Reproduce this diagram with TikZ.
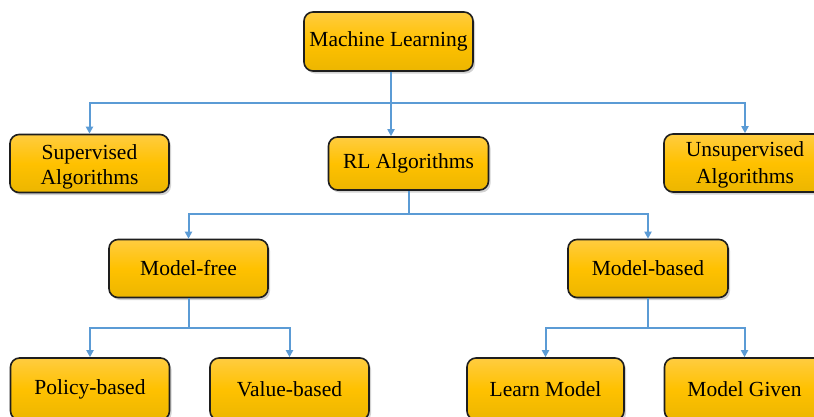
\documentclass[tikz,border=0pt]{standalone}
\usepackage{fontspec}
\setmainfont{Liberation Serif}
\usetikzlibrary{arrows.meta,shadows}
\definecolor{linkblue}{RGB}{91,155,213}
\definecolor{boxtop}{RGB}{255,204,64}
\definecolor{boxmid}{RGB}{255,193,0}
\definecolor{boxbot}{RGB}{236,182,0}
\definecolor{boxline}{RGB}{30,30,30}
\tikzset{
  box/.style={draw=boxline, line width=1.6pt, rounded corners=9pt,
    top color=boxtop, bottom color=boxbot, middle color=boxmid,
    drop shadow={opacity=0.35, shadow xshift=2pt, shadow yshift=-2.5pt},
    minimum width=159pt, minimum height=58pt, inner sep=0pt,
    align=center, font=\fontsize{21.5}{25}\selectfont, text=black},
  conn/.style={draw=linkblue, line width=2pt},
  arr/.style={conn, -{Triangle[length=7pt,width=7pt]}}
}
\begin{document}
\begin{tikzpicture}[x=1pt,y=-1pt]
\useasboundingbox (0,0) rectangle (814,416);
\clip (0,0) rectangle (814,416);
\fill[white] (0,0) rectangle (814,416);
% nodes
\node[box, minimum width=169pt, minimum height=59pt] (ml) at (388.5,41.5) {Machine Learning};
\node[box, text height=43.8pt, text depth=0.9pt] (sup) at (89.5,163.5) {Supervised\\Algorithms};
\node[box, minimum width=160pt, minimum height=53pt] (rl) at (408.5,163.5) {RL Algorithms};
\node[box, minimum width=162pt, font=\fontsize{21.5}{26.5}\selectfont, text height=43.4pt, text depth=2.8pt] (unsup) at (745,163) {Unsupervised\\Algorithms};
\node[box] (mf) at (188.5,268.5) {Model-free};
\node[box, minimum width=160pt] (mb) at (648,268.5) {Model-based};
\node[box, minimum height=62pt] (pol) at (90,389) {Policy-based};
\node[box, minimum height=62pt] (val) at (289.5,389) {Value-based};
\node[box, minimum width=157pt, minimum height=62pt] (learn) at (545.5,389) {Learn Model};
\node[box, minimum width=160pt, minimum height=62pt] (given) at (744.5,389) {Model Given};
% junctions
\coordinate (j1) at (391,103);
\coordinate (j2) at (409,214);
\coordinate (j3) at (188.5,328);
\coordinate (j4) at (648,328);
% connectors
\draw[conn] (ml.south -| j1) -- (j1);
\draw[arr] (j1) -| (sup.north);
\draw[arr] (j1) -- (rl.north -| j1);
\draw[arr] (j1) -| (unsup.north);
\draw[conn] (rl.south -| j2) -- (j2);
\draw[arr] (j2) -| (mf.north);
\draw[arr] (j2) -| (mb.north);
\draw[conn] (mf.south) -- (j3);
\draw[arr] (j3) -| (pol.north);
\draw[arr] (j3) -| (val.north);
\draw[conn] (mb.south) -- (j4);
\draw[arr] (j4) -| (learn.north);
\draw[arr] (j4) -| (given.north);
\end{tikzpicture}
\end{document}
